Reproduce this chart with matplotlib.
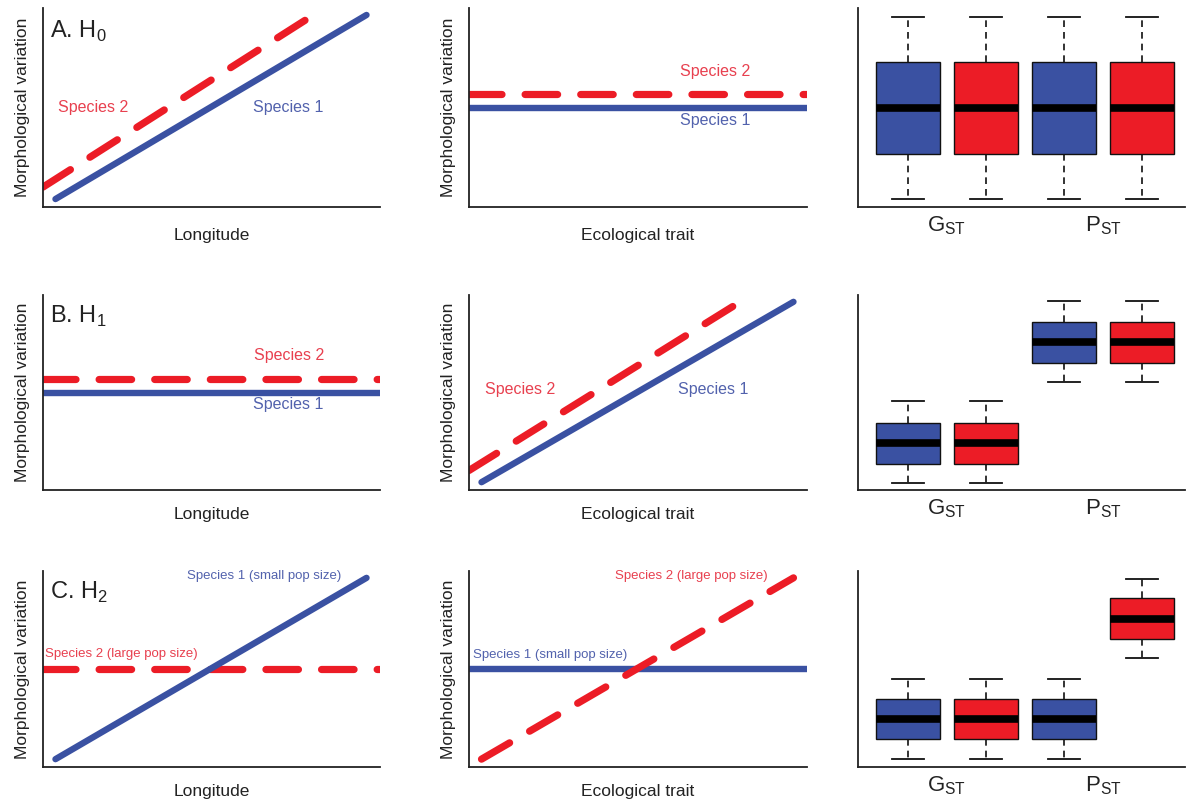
import matplotlib
matplotlib.use("Agg")
import matplotlib.pyplot as plt

plt.rcParams['font.family'] = ['Liberation Sans', 'DejaVu Sans']
plt.rcParams['mathtext.fontset'] = 'custom'
plt.rcParams['mathtext.rm'] = 'Liberation Sans'

# colours
BLUE = '#3a51a2'
RED = '#ec1c26'
BLUE_TXT = '#5262ad'
RED_TXT = '#e8404f'

# line panels (normalised units)
rise_x_sp1 = [0.037, 0.96]
rise_y_sp1 = [0.04, 0.965]
rise_x_sp2 = [0.0, 0.835]
rise_y_sp2 = [0.10, 1.0]
flat_x = [0.0, 1.0]
flat_y_sp1 = [0.50, 0.50]
flat_y_sp2 = [0.57, 0.57]
h2_flat_y = [0.50, 0.50]

row_titles = ['A. H$_{\\rm 0}$', 'B. H$_{\\rm 1}$', 'C. H$_{\\rm 2}$']

# box statistics: whislo, q1, med, q3, whishi  (order: Gst sp1, Gst sp2, Pst sp1, Pst sp2)
box_a = [[0.04, 0.266, 0.497, 0.729, 0.955]] * 4
box_b = [[0.036, 0.134, 0.242, 0.345, 0.454],
         [0.036, 0.134, 0.242, 0.345, 0.454],
         [0.552, 0.649, 0.758, 0.861, 0.969],
         [0.552, 0.649, 0.758, 0.861, 0.969]]
box_c = [[0.041, 0.144, 0.246, 0.349, 0.451],
         [0.041, 0.144, 0.246, 0.349, 0.451],
         [0.041, 0.144, 0.246, 0.349, 0.451],
         [0.554, 0.651, 0.754, 0.862, 0.959]]
box_colors = [BLUE, RED, BLUE, RED]
box_pos = [1, 2, 3, 4]
group_labels = ['G$_{\\rm ST}$', 'P$_{\\rm ST}$']

W, H = 1186, 799
fig = plt.figure(figsize=(W / 100, H / 100), dpi=100)

cols = [(43, 380), (469, 807), (858, 1185)]
rows = [(8, 207), (295, 490), (571, 767)]


def make_ax(c, r):
    x0, x1 = cols[c]
    y0, y1 = rows[r]
    ax = fig.add_axes([x0 / W, 1 - y1 / H, (x1 - x0) / W, (y1 - y0) / H])
    for s in ['top', 'right']:
        ax.spines[s].set_visible(False)
    for s in ['left', 'bottom']:
        ax.spines[s].set_linewidth(1.3)
        ax.spines[s].set_color('#222222')
    ax.set_xticks([])
    ax.set_yticks([])
    return ax


dash = (0, (4.5, 3.2))


def sp1(ax, x, y):
    ax.plot(x, y, color=BLUE, lw=4.6, solid_capstyle='round')


def sp2(ax, x, y):
    ax.plot(x, y, color=RED, lw=5.2, linestyle=dash, dash_capstyle='round')


def line_panel(ax, xlabel, pad=12):
    ax.set_xlim(0, 1)
    ax.set_ylim(0, 1)
    ax.set_xlabel(xlabel, fontsize=12.5, color='#222222', labelpad=pad)
    ax.set_ylabel('Morphological variation', fontsize=12.5, color='#222222', labelpad=9)


# Row A
ax = make_ax(0, 0)
line_panel(ax, 'Longitude', pad=15)
sp2(ax, rise_x_sp2, rise_y_sp2)
sp1(ax, rise_x_sp1, rise_y_sp1)
ax.text(0.148, 0.50, 'Species 2', color=RED_TXT, fontsize=11.5, ha='center', va='center')
ax.text(0.727, 0.50, 'Species 1', color=BLUE_TXT, fontsize=11.5, ha='center', va='center')
ax.text(0.02, 0.88, row_titles[0], fontsize=17, ha='left', va='center', color='#222222')

ax = make_ax(1, 0)
line_panel(ax, 'Ecological trait', pad=15)
sp2(ax, flat_x, flat_y_sp2)
sp1(ax, flat_x, flat_y_sp1)
ax.text(0.728, 0.68, 'Species 2', color=RED_TXT, fontsize=11.5, ha='center', va='center')
ax.text(0.728, 0.437, 'Species 1', color=BLUE_TXT, fontsize=11.5, ha='center', va='center')

# Row B
ax = make_ax(0, 1)
line_panel(ax, 'Longitude')
sp2(ax, flat_x, flat_y_sp2)
sp1(ax, flat_x, flat_y_sp1)
ax.text(0.729, 0.692, 'Species 2', color=RED_TXT, fontsize=11.5, ha='center', va='center')
ax.text(0.729, 0.436, 'Species 1', color=BLUE_TXT, fontsize=11.5, ha='center', va='center')
ax.text(0.02, 0.89, row_titles[1], fontsize=17, ha='left', va='center', color='#222222')

ax = make_ax(1, 1)
line_panel(ax, 'Ecological trait')
sp2(ax, rise_x_sp2, rise_y_sp2)
sp1(ax, rise_x_sp1, rise_y_sp1)
ax.text(0.151, 0.513, 'Species 2', color=RED_TXT, fontsize=11.5, ha='center', va='center')
ax.text(0.722, 0.513, 'Species 1', color=BLUE_TXT, fontsize=11.5, ha='center', va='center')

# Row C
ax = make_ax(0, 2)
line_panel(ax, 'Longitude')
sp2(ax, flat_x, h2_flat_y)
sp1(ax, rise_x_sp1, rise_y_sp1)
ax.text(0.427, 0.974, 'Species 1 (small pop size)', color=BLUE_TXT, fontsize=9.5, ha='left', va='center')
ax.text(0.006, 0.574, 'Species 2 (large pop size)', color=RED_TXT, fontsize=9.5, ha='left', va='center')
ax.text(0.02, 0.89, row_titles[2], fontsize=17, ha='left', va='center', color='#222222')

ax = make_ax(1, 2)
line_panel(ax, 'Ecological trait')
sp1(ax, flat_x, h2_flat_y)
sp2(ax, rise_x_sp1, rise_y_sp1)
ax.text(0.432, 0.974, 'Species 2 (large pop size)', color=RED_TXT, fontsize=9.5, ha='left', va='center')
ax.text(0.012, 0.569, 'Species 1 (small pop size)', color=BLUE_TXT, fontsize=9.5, ha='left', va='center')


# Box panels
def box_panel(r, stats):
    ax = make_ax(2, r)
    bxp_stats = []
    for s in stats:
        bxp_stats.append(dict(whislo=s[0], q1=s[1], med=s[2], q3=s[3], whishi=s[4], fliers=[]))
    bp = ax.bxp(bxp_stats, positions=box_pos, widths=0.82, capwidths=0.41,
                patch_artist=True, showfliers=False,
                boxprops=dict(edgecolor='#111111', linewidth=1.0),
                medianprops=dict(color='black', linewidth=5.5, solid_capstyle='butt'),
                whiskerprops=dict(color='#111111', linewidth=1.2, linestyle=(0, (4, 3))),
                capprops=dict(color='#111111', linewidth=1.3))
    for patch, c in zip(bp['boxes'], box_colors):
        patch.set_facecolor(c)
    ax.set_xlim(0.36, 4.55)
    ax.set_ylim(0, 1)
    ax.set_xticks([1.5, 3.5])
    ax.set_xticklabels(group_labels, fontsize=16, color='#222222')
    ax.tick_params(axis='x', length=0, pad=5)
    return ax


box_panel(0, box_a)
box_panel(1, box_b)
box_panel(2, box_c)

fig.savefig('out.png', dpi=100)
